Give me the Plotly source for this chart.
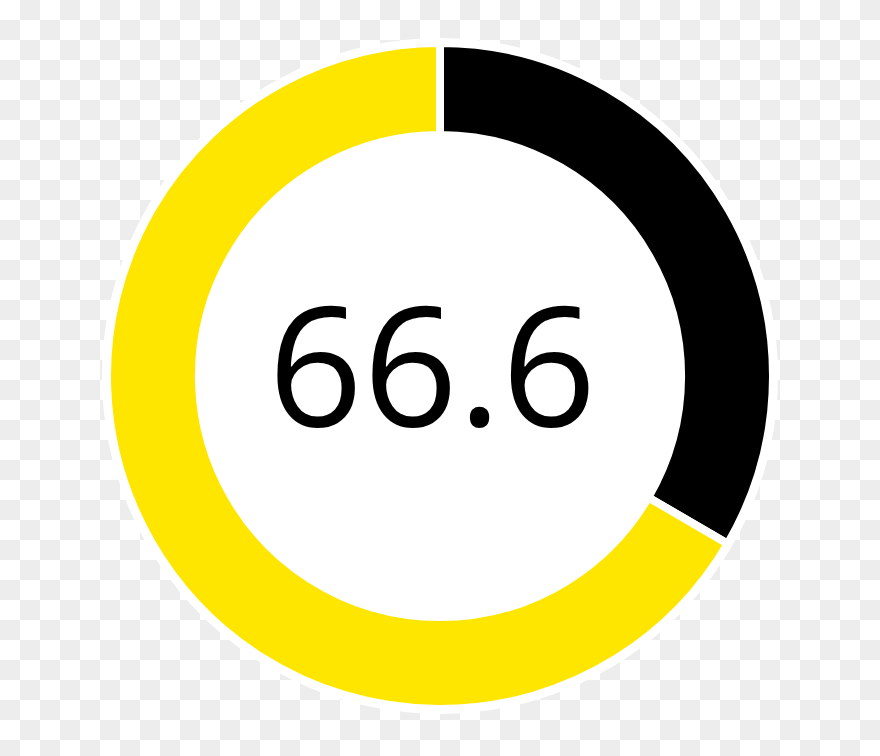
import numpy as np
import plotly.graph_objects as go

# Data
labels = ["Rest", "Score"]
values = [33.4, 66.6]
colors = ["#000000", "#FFE600"]
center_label = "66.6"

W, H = 880, 756

# transparent-looking checkerboard background (20px squares)
cols = np.arange(0, W, 20) + 10
rows = np.arange(0, H + 20, 20) + 10
checker = (np.add.outer(np.arange(len(rows)), np.arange(len(cols))) % 2)

fig = go.Figure()

fig.add_trace(go.Heatmap(
    x=cols, y=rows, z=checker,
    colorscale=[[0, "#ffffff"], [1, "#ededed"]],
    showscale=False, hoverinfo="skip", zsmooth=False,
))

cx, cy = 440, 376

def dom(r):
    return dict(x=[(cx - r) / W, (cx + r) / W],
                y=[(H - cy - r) / H, (H - cy + r) / H])

# white disc behind the ring
fig.add_trace(go.Pie(
    values=[1], marker=dict(colors=["#ffffff"], line=dict(width=0)),
    textinfo="none", hoverinfo="skip", showlegend=False,
    domain=dom(338), sort=False,
))

# donut (white 8px border eats 4px into each edge)
fig.add_trace(go.Pie(
    labels=labels, values=values, hole=0.724,
    marker=dict(colors=colors, line=dict(color="#ffffff", width=8)),
    direction="clockwise", rotation=0, sort=False,
    textinfo="none", hoverinfo="label+value", showlegend=False,
    domain=dom(333),
))

fig.add_annotation(
    text=center_label, x=432 / W, y=1 - 362 / H, xref="paper", yref="paper",
    showarrow=False, font=dict(family="Open Sans", size=166, color="#000000"),
)

fig.update_xaxes(visible=False, range=[0, W], fixedrange=True)
fig.update_yaxes(visible=False, range=[H, 0], fixedrange=True)
fig.update_layout(
    width=W, height=H, margin=dict(l=0, r=0, t=0, b=0),
    paper_bgcolor="#ffffff", plot_bgcolor="#ffffff",
)

fig.write_html(
    "out.html",
    config={"displayModeBar": False},
    post_script="document.body.style.margin='0';document.body.style.overflow='hidden';",
)
